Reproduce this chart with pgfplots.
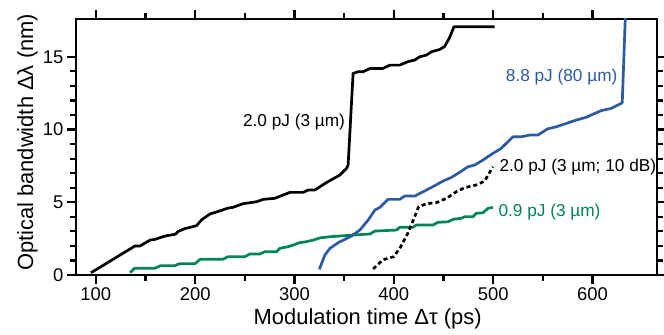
\documentclass[border=0pt]{standalone}
\usepackage{pgfplots}
\pgfplotsset{compat=1.18}
\usepackage{fontspec}
\setmainfont{Liberation Sans}
\definecolor{myblue}{RGB}{44,90,160}
\definecolor{mygreen}{RGB}{0,132,84}

\begin{document}
\begin{tikzpicture}
\begin{axis}[
  scale only axis, width=581bp, height=256bp,
  xmin=80, xmax=665, ymin=0, ymax=17.6,
  xtick={100,200,...,600}, ytick={0,5,10,15},
  minor x tick num=1, minor y tick num=4,
  tick align=outside,
  major tick length=9bp, minor tick length=6bp,
  axis line style={line width=2.8bp},
  every tick/.style={line width=2.2bp, black},
  tick label style={font=\fontsize{18.5}{20}\selectfont},
  /pgf/number format/assume math mode=true,
  xlabel={Modulation time Δτ (ps)},
  ylabel={Optical bandwidth Δλ (nm)},
  label style={font=\fontsize{22}{24}\selectfont},
  xlabel style={at={(axis description cs:0.502,-0.195)}, anchor=base},
  ylabel style={at={(axis description cs:-0.074,0.518)}, anchor=base},
  every axis plot/.append style={line width=2.7bp, line join=round},
]
% 2.0 pJ (3 um)
\addplot[black, mark=none] coordinates {
(95,0.15) (139.5,2.0) (144.6,2.0) (154.6,2.4) (159.6,2.45) (166,2.6) (171,2.7) (180,2.8) (183,3.0) (190,3.2) (196.5,3.3) (201.5,3.4) (206.6,3.8) (215,4.2) (220,4.3) (226.7,4.45) (233,4.6) (238,4.65) (248,4.9) (258,5.0) (262,5.04) (268.5,5.2) (280,5.27) (288.6,5.5) (295.4,5.68) (308.7,5.68) (313.8,5.84) (320.5,5.84) (332,6.35) (345.6,6.87) (352.4,7.33) (354,7.56) (359,13.86) (364,13.97) (369,13.97) (376,14.2) (389,14.2) (396,14.43) (406,14.43) (414,14.66) (421,14.78) (426,15.0) (433,15.12) (438,15.35) (446,15.5) (451,15.7) (456,16.3) (460.6,17.07) (501.5,17.07)
};
% 0.9 pJ (3 um)
\addplot[mygreen, mark=none] coordinates {
(134.5,0.16) (139,0.46) (159.6,0.46) (165,0.64) (179.7,0.64) (184,0.78) (199.9,0.78) (205,1.08) (228,1.08) (233,1.26) (250,1.26) (255,1.44) (265,1.44) (270,1.6) (282,1.6) (285,1.83) (293.7,1.95) (298.7,2.06) (305,2.22) (312,2.29) (318.8,2.4) (325.5,2.55) (335.6,2.63) (359.5,2.75) (376,2.82) (381,3.02) (402.7,3.09) (406,3.28) (419.4,3.28) (422.8,3.44) (439.5,3.44) (444.5,3.62) (454.6,3.66) (459.6,3.83) (468,3.9) (471.3,4.0) (479.6,4.0) (483,4.24) (489.7,4.28) (494.8,4.58) (499.8,4.65)
};
% 8.8 pJ (80 um)
\addplot[myblue, mark=none] coordinates {
(325,0.39) (330.6,1.37) (335.6,1.83) (344,2.22) (350.7,2.45) (357.4,2.68) (365.8,3.09) (374.2,3.78) (381,4.47) (386,4.65) (394.2,5.2) (406,5.2) (411,5.43) (421.1,5.43) (432.8,5.84) (441.2,6.14) (449.6,6.46) (458,6.71) (466.3,7.06) (474.7,7.44) (481.4,7.56) (489.7,7.9) (499.8,8.36) (508,8.7) (520,9.5) (528.4,9.5) (536.7,9.62) (545,9.62) (555,10.05) (563.5,10.19) (573.6,10.42) (583.6,10.65) (593.7,10.84) (602,11.1) (608.8,11.3) (618.8,11.45) (630,11.84) (633.5,18.5)
};
% 2.0 pJ (3 um; 10 dB)
\addplot[black, mark=none, dash pattern=on 4bp off 3bp] coordinates {
(379.2,0.42) (389.2,1.05) (400,1.26) (407,1.95) (414,2.86) (421,4.0) (425,4.7) (433,4.9) (443,4.98) (453,5.27) (463,5.73) (471.3,6.0) (483,6.19) (491.4,6.45) (495,6.87) (499.8,7.44)
};
\begin{scope}[every node/.style={inner sep=0pt, font=\fontsize{17.3}{19}\selectfont}]
\node[anchor=base] at (axis cs:299.5,10.24) {2.0 pJ (3 µm)};
\node[anchor=base, text=myblue] at (axis cs:569,13.29) {8.8 pJ (80 µm)};
\node[anchor=base west] at (axis cs:506.3,7.1) {2.0 pJ (3 µm; 10 dB)};
\node[anchor=base west, text=mygreen] at (axis cs:505.3,4.05) {0.9 pJ (3 µm)};
\end{scope}
\end{axis}
\pgfresetboundingbox
\useasboundingbox (-76bp,-60bp) rectangle (588bp,275bp);
\end{tikzpicture}
\end{document}
